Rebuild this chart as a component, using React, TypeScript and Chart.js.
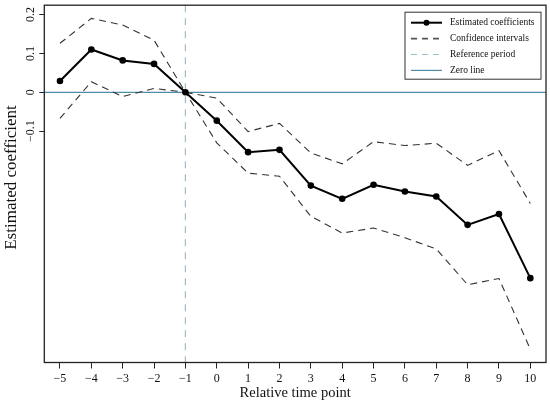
import { useEffect, useRef } from 'react';
import { Chart, registerables } from 'chart.js';

Chart.register(...registerables);

// relative time points and the estimates
const TIME_POINTS = [-5, -4, -3, -2, -1, 0, 1, 2, 3, 4, 5, 6, 7, 8, 9, 10];
const ESTIMATES = [
  0.029, 0.11, 0.082, 0.073, 0, -0.073, -0.154, -0.148, -0.24, -0.274, -0.238, -0.255, -0.268,
  -0.341, -0.313, -0.478,
];
const UPPER_CI = [
  0.126, 0.19, 0.173, 0.134, 0, -0.015, -0.101, -0.08, -0.156, -0.184, -0.127, -0.137, -0.131,
  -0.188, -0.15, -0.286,
];
const LOWER_CI = [
  -0.067, 0.027, -0.011, 0.01, 0, -0.13, -0.208, -0.216, -0.319, -0.362, -0.349, -0.374, -0.403,
  -0.495, -0.479, -0.661,
];
const Y_TICKS = [-0.1, 0, 0.1, 0.2];
const REFERENCE_PERIOD = -1;
const LEGEND_LABELS = [
  'Estimated coefficients',
  'Confidence intervals',
  'Reference period',
  'Zero line',
];

const SERIF = '"Liberation Serif", "DejaVu Serif", serif';
const ZERO_COLOR = '#4f8ca6';
const REF_COLOR = '#9fbec8';
const CI_COLOR = '#333333';

const fmt = (v: number) => (v < 0 ? '\u2212' + Math.abs(v) : String(v));
const toXY = (ys: number[]) => TIME_POINTS.map((x, i) => ({ x, y: ys[i] }));

const framePlugin = {
  id: 'frame',
  beforeDatasetsDraw(chart: any) {
    const { ctx, chartArea: a, scales } = chart;
    const y0 = scales.y.getPixelForValue(0);
    const xr = scales.x.getPixelForValue(REFERENCE_PERIOD);
    ctx.save();
    ctx.lineWidth = 1.2;
    ctx.strokeStyle = ZERO_COLOR;
    ctx.beginPath();
    ctx.moveTo(a.left, y0);
    ctx.lineTo(a.right, y0);
    ctx.stroke();
    ctx.setLineDash([7, 6]);
    ctx.strokeStyle = REF_COLOR;
    ctx.beginPath();
    ctx.moveTo(xr, a.top);
    ctx.lineTo(xr, a.bottom);
    ctx.stroke();
    ctx.restore();
  },
  afterDraw(chart: any) {
    const { ctx, chartArea: a } = chart;
    ctx.save();
    ctx.strokeStyle = '#222';
    ctx.lineWidth = 1.3;
    ctx.strokeRect(a.left, a.top, a.right - a.left, a.bottom - a.top);

    // legend box, top right inside the plot
    const bw = 136;
    const bh = 67;
    const bx = a.right - 5 - bw;
    const by = a.top + 7;
    ctx.fillStyle = '#fff';
    ctx.fillRect(bx, by, bw, bh);
    ctx.lineWidth = 1;
    ctx.strokeStyle = '#333';
    ctx.strokeRect(bx, by, bw, bh);

    const styles = [
      { color: '#000', width: 2, dash: [] as number[], dot: true },
      { color: '#555', width: 1.6, dash: [6, 5], dot: false },
      { color: REF_COLOR, width: 1.2, dash: [6, 5], dot: false },
      { color: ZERO_COLOR, width: 1.2, dash: [] as number[], dot: false },
    ];
    ctx.font = `9.5px ${SERIF}`;
    ctx.textBaseline = 'middle';
    ctx.textAlign = 'left';
    LEGEND_LABELS.forEach((label, i) => {
      const s = styles[i];
      const ry = by + 10.5 + i * 15.9;
      ctx.strokeStyle = s.color;
      ctx.lineWidth = s.width;
      ctx.setLineDash(s.dash);
      ctx.beginPath();
      ctx.moveTo(bx + 6, ry);
      ctx.lineTo(bx + 37, ry);
      ctx.stroke();
      ctx.setLineDash([]);
      if (s.dot) {
        ctx.fillStyle = '#000';
        ctx.beginPath();
        ctx.arc(bx + 21.5, ry, 3, 0, Math.PI * 2);
        ctx.fill();
      }
      ctx.fillStyle = '#111';
      ctx.fillText(label, bx + 45, ry);
    });
    ctx.restore();
  },
};

function EventStudyChart() {
  const ref = useRef<HTMLCanvasElement>(null);
  const chartRef = useRef<Chart | null>(null);

  useEffect(() => {
    if (!ref.current) return;
    const ctx = ref.current.getContext('2d');
    if (!ctx) return;
    chartRef.current = new Chart(ctx, {
      type: 'line',
      data: {
        datasets: [
          {
            label: 'Estimated coefficients',
            data: toXY(ESTIMATES),
            borderColor: '#000',
            backgroundColor: '#000',
            borderWidth: 2,
            pointRadius: 3.3,
            pointBorderWidth: 0,
            pointBackgroundColor: '#000',
          },
          {
            label: 'Upper CI',
            data: toXY(UPPER_CI),
            borderColor: CI_COLOR,
            borderWidth: 1.1,
            borderDash: [7, 5],
            pointRadius: 0,
          },
          {
            label: 'Lower CI',
            data: toXY(LOWER_CI),
            borderColor: CI_COLOR,
            borderWidth: 1.1,
            borderDash: [7, 5],
            pointRadius: 0,
          },
        ],
      },
      options: {
        responsive: true,
        maintainAspectRatio: false,
        animation: false,
        events: [],
        layout: { padding: { top: 5, right: 4, left: 0, bottom: 0 } },
        plugins: { legend: { display: false }, tooltip: { enabled: false } },
        scales: {
          x: {
            type: 'linear',
            min: -5.5,
            max: 10.5,
            afterBuildTicks: (s: any) => {
              s.ticks = TIME_POINTS.map((value) => ({ value }));
            },
            afterFit: (s: any) => {
              s.height = 43.5;
            },
            ticks: {
              callback: (v: any) => fmt(Number(v)),
              font: { family: SERIF, size: 12 },
              color: '#111',
              padding: 3,
              autoSkip: false,
              maxRotation: 0,
            },
            grid: {
              drawOnChartArea: false,
              drawTicks: true,
              tickLength: 6,
              tickColor: '#222',
              tickWidth: 1,
            },
            border: { display: false },
            title: {
              display: true,
              text: 'Relative time point',
              font: { family: SERIF, size: 14.5 },
              color: '#111',
              padding: { top: 0, bottom: 4 },
            },
          },
          y: {
            type: 'linear',
            min: -0.695,
            max: 0.224,
            afterBuildTicks: (s: any) => {
              s.ticks = Y_TICKS.map((value) => ({ value }));
            },
            afterFit: (s: any) => {
              s.width = 44.3;
            },
            ticks: {
              callback: (v: any) => fmt(Math.round(Number(v) * 10) / 10),
              font: { family: SERIF, size: 12 },
              color: '#111',
              minRotation: 90,
              maxRotation: 90,
              crossAlign: 'center',
              padding: -2,
            },
            grid: {
              drawOnChartArea: false,
              drawTicks: true,
              tickLength: 5,
              tickColor: '#222',
              tickWidth: 1,
            },
            border: { display: false },
            title: {
              display: true,
              // leading spaces nudge the centred title up a little, as in the original
              text: '   Estimated coefficient',
              font: { family: SERIF, size: 17 },
              color: '#111',
              padding: { top: 1, bottom: 0 },
            },
          },
        },
      },
      plugins: [framePlugin],
    } as any);
    return () => {
      chartRef.current?.destroy();
      chartRef.current = null;
    };
  }, []);

  return (
    <div style={{ width: 550, height: 406, position: 'relative' }}>
      <canvas ref={ref} />
    </div>
  );
}

export default function App() {
  useEffect(() => {
    document.body.style.margin = '0';
    document.body.style.background = '#fff';
  }, []);
  return <EventStudyChart />;
}
